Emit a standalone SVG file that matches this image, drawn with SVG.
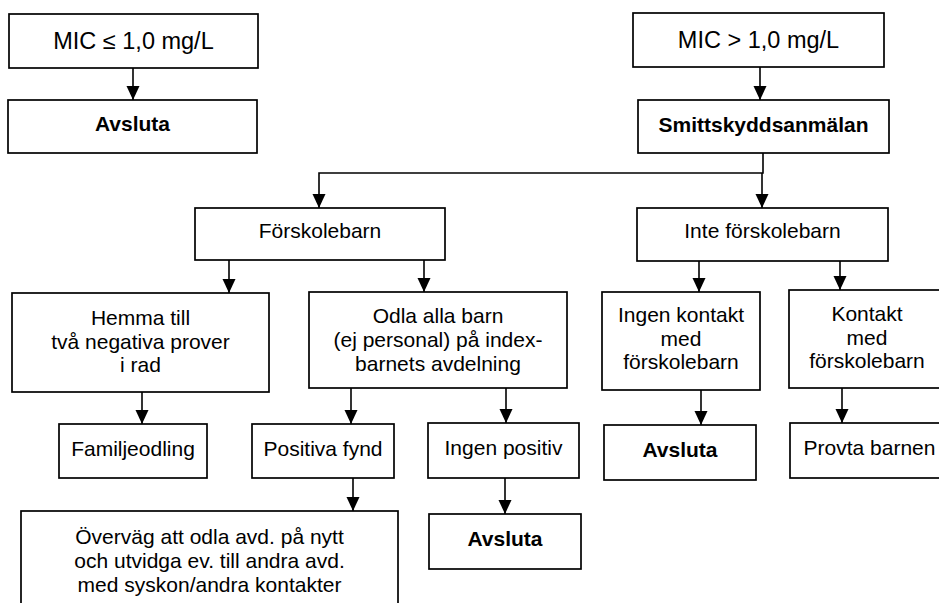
<svg xmlns="http://www.w3.org/2000/svg" width="939" height="603" viewBox="0 0 939 603">
<style>
  .box { fill: #ffffff; stroke: #000000; stroke-width: 1.7; }
  .t { font-family: "Liberation Sans", Arial, sans-serif; font-size: 21px; fill: #000000; text-anchor: middle; }
  .big { font-size: 23.5px; }
  .b { font-weight: bold; }
  .c { fill: none; stroke: #000000; stroke-width: 1.6; }
</style>
<defs>
  <marker id="ah" markerUnits="userSpaceOnUse" markerWidth="14" markerHeight="14" refX="14" refY="6.5" orient="auto">
    <path d="M0,0 L14,6.5 L0,13 z" fill="#000000"/>
  </marker>
</defs>
<rect width="939" height="603" fill="#ffffff"/>

<g id="connectors">
  <path class="c" d="M133,68 V100" marker-end="url(#ah)"/>
  <path class="c" d="M760,67 V100" marker-end="url(#ah)"/>
  <path class="c" d="M763,153 V173 H319 V208" marker-end="url(#ah)"/>
  <path class="c" d="M762,173 V208" marker-end="url(#ah)"/>
  <path class="c" d="M229,260 V293" marker-end="url(#ah)"/>
  <path class="c" d="M424,260 V292" marker-end="url(#ah)"/>
  <path class="c" d="M699,261 V292" marker-end="url(#ah)"/>
  <path class="c" d="M840,261 V290" marker-end="url(#ah)"/>
  <path class="c" d="M142,392 V424" marker-end="url(#ah)"/>
  <path class="c" d="M351,388 V424" marker-end="url(#ah)"/>
  <path class="c" d="M506,388 V423" marker-end="url(#ah)"/>
  <path class="c" d="M353,478 V511" marker-end="url(#ah)"/>
  <path class="c" d="M505,478 V514" marker-end="url(#ah)"/>
  <path class="c" d="M701,390 V425" marker-end="url(#ah)"/>
  <path class="c" d="M842,388 V423" marker-end="url(#ah)"/>
</g>

<g id="mic-low">
  <rect class="box" x="9" y="14" width="249" height="54"/>
  <text class="t big" x="133.5" y="48.5">MIC ≤ 1,0 mg/L</text>
</g>
<g id="avsluta-1">
  <rect class="box" x="8" y="100" width="249" height="53"/>
  <text class="t b" x="132.5" y="131">Avsluta</text>
</g>
<g id="mic-high">
  <rect class="box" x="633" y="13" width="251" height="54"/>
  <text class="t big" x="758.5" y="48">MIC &gt; 1,0 mg/L</text>
</g>
<g id="smittskydd">
  <rect class="box" x="638" y="100" width="251" height="53"/>
  <text class="t b" x="763.5" y="132">Smittskyddsanmälan</text>
</g>
<g id="forskolebarn">
  <rect class="box" x="195" y="208" width="250" height="52"/>
  <text class="t" x="320" y="238">Förskolebarn</text>
</g>
<g id="inte-forskolebarn">
  <rect class="box" x="637" y="208" width="251" height="53"/>
  <text class="t" x="762.5" y="238">Inte förskolebarn</text>
</g>
<g id="hemma">
  <rect class="box" x="12" y="293" width="257" height="99"/>
  <text class="t" x="140.5" y="325">Hemma till</text>
  <text class="t" x="140.5" y="348.5">två negativa prover</text>
  <text class="t" x="140.5" y="372">i rad</text>
</g>
<g id="odla">
  <rect class="box" x="309" y="292" width="258" height="96"/>
  <text class="t" x="438" y="323">Odla alla barn</text>
  <text class="t" x="438" y="347">(ej personal) på index-</text>
  <text class="t" x="438" y="371">barnets avdelning</text>
</g>
<g id="ingen-kontakt">
  <rect class="box" x="602" y="292" width="158" height="98"/>
  <text class="t" x="681" y="322">Ingen kontakt</text>
  <text class="t" x="681" y="345.5">med</text>
  <text class="t" x="681" y="369">förskolebarn</text>
</g>
<g id="kontakt">
  <rect class="box" x="789" y="290" width="158" height="98"/>
  <text class="t" x="867" y="321">Kontakt</text>
  <text class="t" x="867" y="344.5">med</text>
  <text class="t" x="867" y="368">förskolebarn</text>
</g>
<g id="familjeodling">
  <rect class="box" x="59" y="424" width="148" height="54"/>
  <text class="t" x="133" y="456">Familjeodling</text>
</g>
<g id="positiva-fynd">
  <rect class="box" x="252" y="424" width="142" height="54"/>
  <text class="t" x="323" y="456">Positiva fynd</text>
</g>
<g id="ingen-positiv">
  <rect class="box" x="428" y="423" width="151" height="55"/>
  <text class="t" x="503.5" y="455">Ingen positiv</text>
</g>
<g id="avsluta-2">
  <rect class="box" x="604" y="425" width="152" height="55"/>
  <text class="t b" x="680" y="457">Avsluta</text>
</g>
<g id="provta">
  <rect class="box" x="790" y="423" width="159" height="55"/>
  <text class="t" x="869.5" y="455">Provta barnen</text>
</g>
<g id="overvag">
  <rect class="box" x="21" y="511" width="377" height="100"/>
  <text class="t" x="209.5" y="544">Överväg att odla avd. på nytt</text>
  <text class="t" x="209.5" y="568">och utvidga ev. till andra avd.</text>
  <text class="t" x="209.5" y="592">med syskon/andra kontakter</text>
</g>
<g id="avsluta-3">
  <rect class="box" x="429" y="514" width="152" height="55"/>
  <text class="t b" x="505" y="546">Avsluta</text>
</g>
</svg>
